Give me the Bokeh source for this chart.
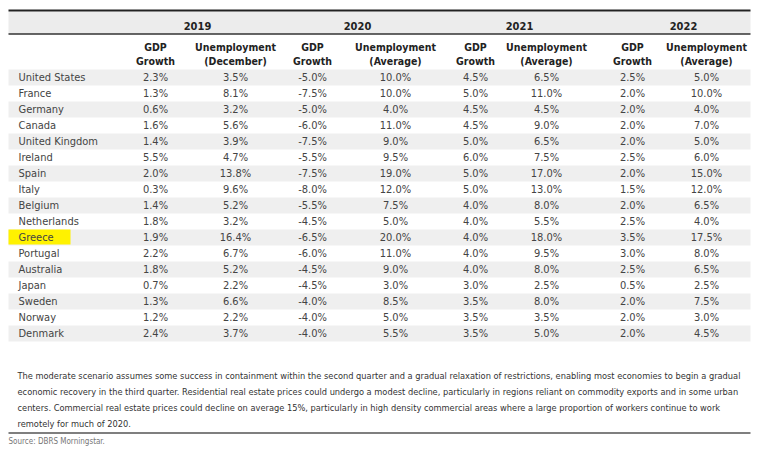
from bokeh.plotting import figure
from bokeh.models import Range1d, ColumnDataSource
from bokeh.core.properties import value
from bokeh.embed import file_html
from bokeh.resources import INLINE

countries = ["United States", "France", "Germany", "Canada", "United Kingdom", "Ireland",
             "Spain", "Italy", "Belgium", "Netherlands", "Greece", "Portugal", "Australia",
             "Japan", "Sweden", "Norway", "Denmark"]
years = ["2019", "2020", "2021", "2022"]
sub_headers = [("GDP", "Growth"), ("Unemployment", "(December)"),
               ("GDP", "Growth"), ("Unemployment", "(Average)"),
               ("GDP", "Growth"), ("Unemployment", "(Average)"),
               ("GDP", "Growth"), ("Unemployment", "(Average)")]
gdp_2019 = [2.3, 1.3, 0.6, 1.6, 1.4, 5.5, 2.0, 0.3, 1.4, 1.8, 1.9, 2.2, 1.8, 0.7, 1.3, 1.2, 2.4]
unemp_2019 = [3.5, 8.1, 3.2, 5.6, 3.9, 4.7, 13.8, 9.6, 5.2, 3.2, 16.4, 6.7, 5.2, 2.2, 6.6, 2.2, 3.7]
gdp_2020 = [-5.0, -7.5, -5.0, -6.0, -7.5, -5.5, -7.5, -8.0, -5.5, -4.5, -6.5, -6.0, -4.5, -4.5, -4.0, -4.0, -4.0]
unemp_2020 = [10.0, 10.0, 4.0, 11.0, 9.0, 9.5, 19.0, 12.0, 7.5, 5.0, 20.0, 11.0, 9.0, 3.0, 8.5, 5.0, 5.5]
gdp_2021 = [4.5, 5.0, 4.5, 4.5, 5.0, 6.0, 5.0, 5.0, 4.0, 4.0, 4.0, 4.0, 4.0, 3.0, 3.5, 3.5, 3.5]
unemp_2021 = [6.5, 11.0, 4.5, 9.0, 6.5, 7.5, 17.0, 13.0, 8.0, 5.5, 18.0, 9.5, 8.0, 2.5, 8.0, 3.5, 5.0]
gdp_2022 = [2.5, 2.0, 2.0, 2.0, 2.0, 2.5, 2.0, 1.5, 2.0, 2.5, 3.5, 3.0, 2.5, 0.5, 2.0, 2.0, 2.0]
unemp_2022 = [5.0, 10.0, 4.0, 7.0, 5.0, 6.0, 15.0, 12.0, 6.5, 4.0, 17.5, 8.0, 6.5, 2.5, 7.5, 3.0, 4.5]
highlight = "Greece"
note_lines = [
    "The moderate scenario assumes some success in containment within the second quarter and a gradual relaxation of restrictions, enabling most economies to begin a gradual",
    "economic recovery in the third quarter. Residential real estate prices could undergo a modest decline, particularly in regions reliant on commodity exports and in some urban",
    "centers. Commercial real estate prices could decline on average 15%, particularly in high density commercial areas where a large proportion of workers continue to work",
    "remotely for much of 2020.",
]
source = "Source: DBRS Morningstar."

FONT = "DejaVu Sans Condensed, sans-serif"
W, H = 758, 448
p = figure(width=W, height=H, output_backend="svg", toolbar_location=None,
           x_range=Range1d(0, W), y_range=Range1d(H, 0),
           min_border=0, border_fill_color="white", background_fill_color="white")
p.axis.visible = False
p.grid.visible = False
p.outline_line_color = None

left, right = 8, 750
col_x = [155, 235, 312, 395, 475, 546, 632, 706]
year_x = [197, 357, 519, 683]
row_y0 = 77
row_h = 16

# header band
p.quad(left=[left], right=[right], top=[11], bottom=[33.5], fill_color="#ececec", line_color=None)
p.segment(x0=[left], y0=[10], x1=[right], y1=[10], line_color="#222222", line_width=2)
p.segment(x0=[left], y0=[33.5], x1=[right], y1=[33.5], line_color="#333333", line_width=1.5)
p.text(x=year_x, y=[25] * 4, text=years, text_font=value(FONT), text_font_size="11px",
       text_font_style="bold", text_align="center", text_baseline="middle", text_color="#222222")

# sub headers
p.text(x=col_x, y=[46] * 8, text=[s[0] for s in sub_headers], text_font=value(FONT),
       text_font_size="10.5px", text_font_style="bold", text_align="center",
       text_baseline="middle", text_color="#222222")
p.text(x=col_x, y=[60] * 8, text=[s[1] for s in sub_headers], text_font=value(FONT),
       text_font_size="10.5px", text_font_style="bold", text_align="center",
       text_baseline="middle", text_color="#222222")

n = len(countries)
ys = [row_y0 + i * row_h for i in range(n)]
shaded = [y for i, y in enumerate(ys) if i % 2 == 0]
p.quad(left=[left] * len(shaded), right=[right] * len(shaded),
       top=[y - row_h / 2 for y in shaded], bottom=[y + row_h / 2 for y in shaded],
       fill_color="#efefef", line_color=None)

gi = countries.index(highlight)
p.quad(left=[8], right=[70], top=[ys[gi] - 8], bottom=[ys[gi] + 7],
       fill_color="#fff200", line_color=None)

p.text(x=[18] * n, y=ys, text=countries, text_font=value(FONT), text_font_size="11px",
       text_align="left", text_baseline="middle", text_color="#444444")

cols = [gdp_2019, unemp_2019, gdp_2020, unemp_2020, gdp_2021, unemp_2021, gdp_2022, unemp_2022]
for cx, vals in zip(col_x, cols):
    src = ColumnDataSource(dict(x=[cx] * n, y=ys, t=[f"{v:.1f}%" for v in vals]))
    p.text(x="x", y="y", text="t", source=src, text_font=value(FONT), text_font_size="11px",
           text_align="center", text_baseline="middle", text_color="#444444")

note_y = [375, 391, 407, 423]
p.text(x=[17] * len(note_lines), y=note_y, text=note_lines, text_font=value(FONT),
       text_font_size="9.2px", text_align="left", text_baseline="middle", text_color="#333333")

p.segment(x0=[left], y0=[432.5], x1=[right], y1=[432.5], line_color="#555555", line_width=1.5)
p.text(x=[8], y=[441], text=[source], text_font=value(FONT), text_font_size="8px",
       text_align="left", text_baseline="middle", text_color="#777777")

open("out.html", "w").write(file_html(p, INLINE))
